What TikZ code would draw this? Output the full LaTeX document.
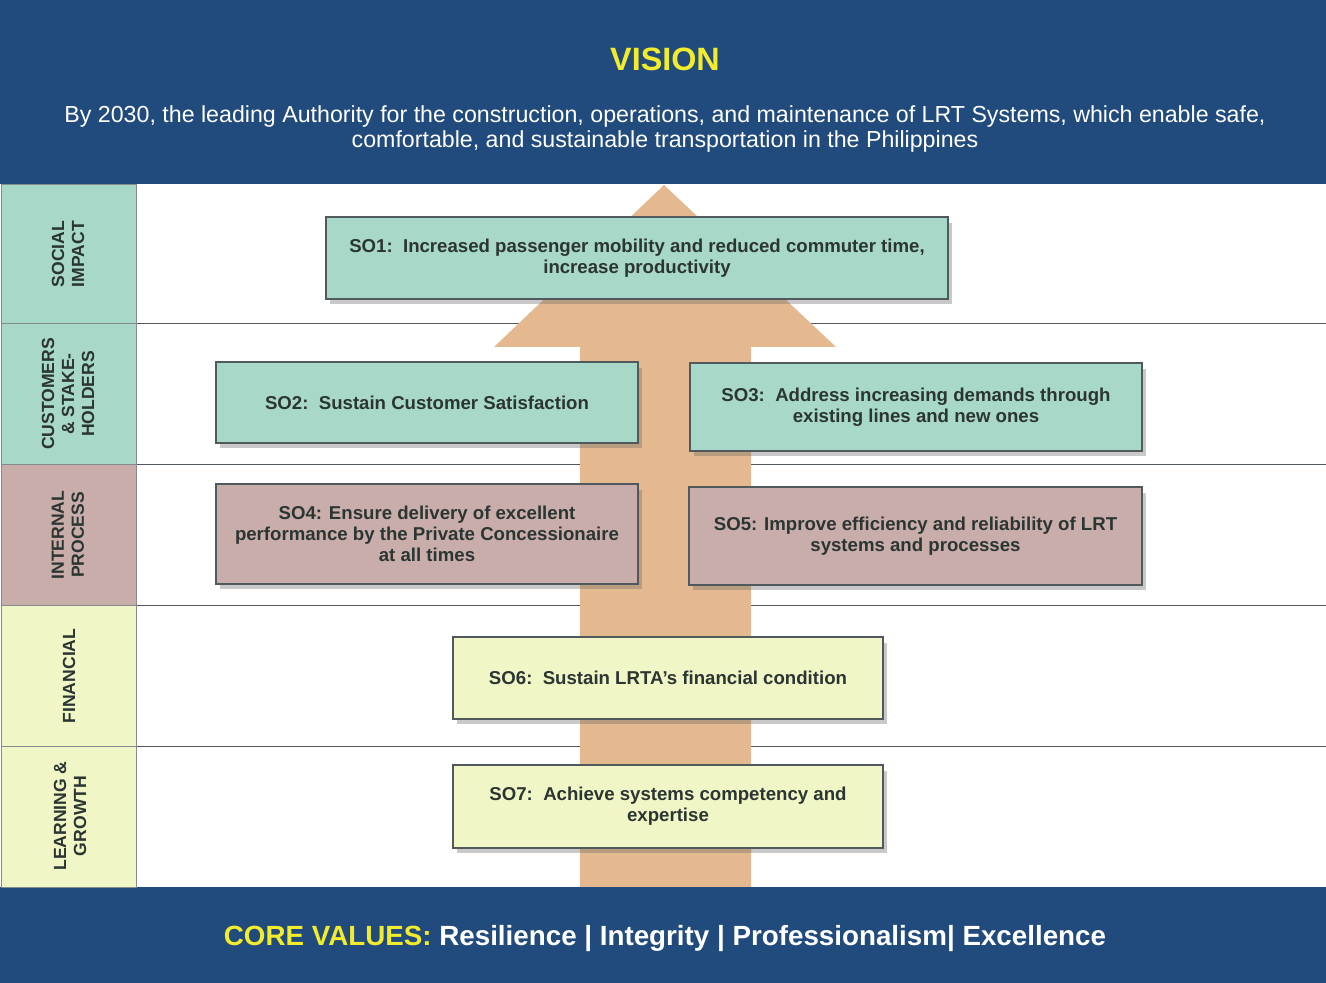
\documentclass[tikz,border=0pt]{standalone}
\usepackage{fontspec}
\setmainfont{Liberation Sans}
\usetikzlibrary{shadows}
\definecolor{navy}{HTML}{214B7C}
\definecolor{tealc}{HTML}{A8D8C7}
\definecolor{mauve}{HTML}{C9ADAA}
\definecolor{paleyel}{HTML}{F0F6C6}
\definecolor{tan}{HTML}{E5B98F}
\definecolor{vis}{HTML}{F2EC2C}
\definecolor{txt}{HTML}{2B3532}
\definecolor{rule}{HTML}{505A5E}
\tikzset{
  sobox/.style={draw=rule, line width=0.9pt, align=center, text=txt,
    font=\bfseries\fontsize{10.6}{12}\selectfont, inner sep=2pt,
    drop shadow={shadow xshift=0.8mm, shadow yshift=-1.1mm, opacity=0.35, fill=black!60}},
  cell/.style={draw=rule!70, line width=0.5pt},
  celltext/.style={rotate=90, align=center, text=txt,
    font=\bfseries\fontsize{10}{11.4}\selectfont},
  hline/.style={draw=rule, line width=0.8pt}
}
\begin{document}
\begin{tikzpicture}[x=0.02cm,y=-0.02cm]
\useasboundingbox (0,0) rectangle (1326,983);
\fill[white] (0,0) rectangle (1326,983);
% row separators
\coordinate (l1a) at (136,323.5); \coordinate (l1b) at (1326,323.5);
\coordinate (l2a) at (136,464.5); \coordinate (l2b) at (1326,464.5);
\coordinate (l3a) at (136,605.5); \coordinate (l3b) at (1326,605.5);
\coordinate (l4a) at (136,746.5); \coordinate (l4b) at (1326,746.5);
\draw[hline] (l1a) -- (l1b);
\draw[hline] (l2a) -- (l2b);
\draw[hline] (l3a) -- (l3b);
\draw[hline] (l4a) -- (l4b);
% big arrow
\fill[tan] (580,888) -- (580,347) -- (494,347) -- (664,185) -- (836,347) -- (751,347) -- (751,888) -- cycle;
% top band
\fill[navy] (0,0) rectangle (1326,184);
\node[text=vis, font=\bfseries\fontsize{18.4}{21}\selectfont] (vision) at (665,59) {VISION};
\node[text=white, align=center, font=\fontsize{13.2}{14.2}\selectfont] (vtext) at (665,129)
  {By 2030, the leading Authority for the construction, operations, and maintenance of LRT Systems, which enable safe,\\
   comfortable, and sustainable transportation in the Philippines};
% bottom band
\fill[navy] (0,887) rectangle (1326,983);
\node[font=\bfseries\fontsize{15.8}{18}\selectfont] (core) at (665,939)
  {\textcolor{vis}{CORE VALUES:} \textcolor{white}{Resilience | Integrity | Professionalism| Excellence}};
% left column
\draw[cell, fill=tealc] (1,184) rectangle (136,323.5);
\draw[cell, fill=tealc] (1,323.5) rectangle (136,464.5);
\draw[cell, fill=mauve] (1,464.5) rectangle (136,605.5);
\draw[cell, fill=paleyel] (1,605.5) rectangle (136,746.5);
\draw[cell, fill=paleyel] (1,746.5) rectangle (136,887);
\node[celltext] (c1) at (68,254) {SOCIAL\\IMPACT};
\node[celltext] (c2) at (68,394) {CUSTOMERS\\\&\ STAKE-\\HOLDERS};
\node[celltext] (c3) at (68,535) {INTERNAL\\PROCESS};
\node[celltext] (c4) at (69,676) {FINANCIAL};
\node[celltext] (c5) at (70,816) {LEARNING \&\\GROWTH};
% objective boxes
\node[sobox, fill=tealc, minimum width=12.44cm, minimum height=1.64cm] (so1) at (637,258)
  {SO1:\ \ Increased passenger mobility and reduced commuter time,\\increase productivity};
\node[sobox, fill=tealc, minimum width=8.44cm, minimum height=1.62cm] (so2) at (427,402.5)
  {SO2:\ \ Sustain Customer Satisfaction};
\node[sobox, fill=tealc, minimum width=9.04cm, minimum height=1.76cm] (so3) at (916,407)
  {SO3:\ \ Address increasing demands through\\existing lines and new ones};
\node[sobox, fill=mauve, minimum width=8.44cm, minimum height=2.0cm] (so4) at (427,534)
  {SO4: Ensure delivery of excellent\\performance by the Private Concessionaire\\at all times};
\node[sobox, fill=mauve, minimum width=9.06cm, minimum height=1.96cm] (so5) at (915.5,536)
  {SO5: Improve efficiency and reliability of LRT\\systems and processes};
\node[sobox, fill=paleyel, minimum width=8.6cm, minimum height=1.64cm] (so6) at (668,678)
  {SO6:\ \ Sustain LRTA’s financial condition};
\node[sobox, fill=paleyel, minimum width=8.6cm, minimum height=1.66cm] (so7) at (668,806.5)
  {SO7:\ \ Achieve systems competency and\\expertise};
\end{tikzpicture}
\end{document}
